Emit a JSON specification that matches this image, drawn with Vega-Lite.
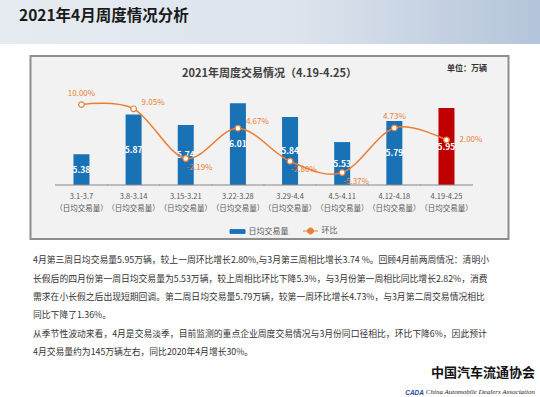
{
  "$schema": "https://vega.github.io/schema/vega-lite/v6.json",
  "padding": 0,
  "background": "#ffffff",
  "spacing": 11,
  "center": true,
  "resolve": {"legend": {"color": "independent"}, "scale": {"color": "independent"}},
  "config": {
    "font": "Noto Sans CJK SC",
    "view": {"stroke": null},
    "locale": {"number": {"decimal": ".", "thousands": ",", "grouping": [3], "currency": ["", ""], "minus": "-"}}
  },
  "vconcat": [
    {
      "width": 540,
      "height": 44,
      "view": {"fill": {"gradient": "linear", "x1": 0, "y1": 0, "x2": 1, "y2": 0, "stops": [{"offset": 0, "color": "#e6ebf1"}, {"offset": 0.55, "color": "#dde4ed"}, {"offset": 1, "color": "#b4c4da"}]}, "stroke": null},
      "data": {"values": [{"标题": "2021年4月周度情况分析"}]},
      "mark": {"type": "text", "align": "left", "baseline": "middle", "fontSize": 15.5, "fontWeight": "bold", "color": "#1a1a1a", "dx": 19, "dy": -6},
      "encoding": {
        "x": {"datum": 0, "type": "quantitative", "scale": {"domain": [0, 1]}, "axis": null},
        "text": {"field": "标题"}
      }
    },
    {
      "width": 478,
      "height": 183,
      "view": {"fill": "#f2f2f2", "stroke": "#8e8e8e", "strokeWidth": 2},
      "title": {"text": "2021年周度交易情况（4.19-4.25）", "fontSize": 11, "fontWeight": "bold", "color": "#404040", "anchor": "middle", "baseline": "middle", "offset": -29},
      "data": {"values": [
        {"周": "3.1-3.7", "日均交易量": 5.38, "环比": 0.1000},
        {"周": "3.8-3.14", "日均交易量": 5.87, "环比": 0.0905},
        {"周": "3.15-3.21", "日均交易量": 5.74, "环比": -0.0219},
        {"周": "3.22-3.28", "日均交易量": 6.01, "环比": 0.0467},
        {"周": "3.29-4.4", "日均交易量": 5.84, "环比": -0.0280},
        {"周": "4.5-4.11", "日均交易量": 5.53, "环比": -0.0537},
        {"周": "4.12-4.18", "日均交易量": 5.79, "环比": 0.0473},
        {"周": "4.19-4.25", "日均交易量": 5.95, "环比": 0.0200}
      ]},
      "encoding": {
        "x": {
          "field": "周", "type": "ordinal", "sort": null,
          "scale": {"paddingInner": 0.693, "paddingOuter": 0.93, "align": 0.443},
          "axis": {"title": null, "labelAngle": 0, "labelExpr": "[datum.label, '（日均交易量）']", "labelFontSize": 7.5, "labelColor": "#595959", "labelLineHeight": 12, "labelPadding": 7, "ticks": false, "domain": false, "grid": false, "offset": -54}
        }
      },
      "layer": [
        {
          "layer": [
            {
              "mark": {"type": "bar"},
              "encoding": {
                "y": {"field": "日均交易量", "type": "quantitative", "scale": {"domain": [4.333, 6.593], "nice": false, "zero": false}, "axis": null},
                "y2": {"datum": 5},
                "color": {
                  "datum": "日均交易量", "type": "nominal",
                  "condition": {"test": "datum['周'] === '4.19-4.25'", "value": "#C00000"},
                  "scale": {"domain": ["日均交易量", "环比"], "range": ["#1A72B6", "#ED7D31"]},
                  "legend": {
                    "title": null, "orient": "none", "legendX": 199, "legendY": 167, "direction": "horizontal",
                    "labelFontSize": 8, "labelColor": "#595959", "symbolSize": 225, "columnPadding": 12, "labelOffset": 3,
                    "encode": {"symbols": {"update": {
                      "shape": {"signal": "datum.label === '环比' ? 'M-1,0H-0.4M0.4,0H1M0.4,0A0.4,0.4,0,1,1,-0.4,0A0.4,0.4,0,1,1,0.4,0' : 'M-1,-0.25H1V0.25H-1Z'"},
                      "fill": {"signal": "datum.label === '环比' ? '#ffffff' : '#1A72B6'"},
                      "stroke": {"signal": "datum.label === '环比' ? '#ED7D31' : '#1A72B6'"},
                      "strokeWidth": {"value": 1},
                      "opacity": {"value": 1}
                    }}}
                  }
                }
              }
            },
            {
              "mark": {"type": "tick", "orient": "horizontal", "size": 53, "thickness": 1.5, "color": "#8c8c8c"},
              "encoding": {"y": {"datum": 5, "type": "quantitative"}}
            },
            {
              "mark": {"type": "text", "color": "#ffffff", "fontSize": 8.5, "fontWeight": "bold", "baseline": "middle", "dy": {"expr": "(datum['日均交易量'] - 5) * 40.5"}},
              "encoding": {
                "y": {"field": "日均交易量", "type": "quantitative"},
                "text": {"field": "日均交易量", "type": "quantitative", "format": ".2f"}
              }
            }
          ]
        },
        {
          "encoding": {
            "y": {"field": "环比", "type": "quantitative", "scale": {"domain": [-0.204, 0.21], "nice": false, "zero": false},
              "axis": {"orient": "right", "title": "单位：万辆", "labels": false, "ticks": false, "domain": false, "grid": false, "titleAngle": 0, "titleAlign": "right", "titleBaseline": "middle", "titleX": -22, "titleY": 12, "titleFontSize": 8, "titleFontWeight": "bold", "titleColor": "#333333"}}
          },
          "layer": [
            {
              "mark": {"type": "line", "interpolate": "cardinal", "strokeWidth": 1.5},
              "encoding": {"color": {"datum": "环比", "type": "nominal"}}
            },
            {
              "mark": {"type": "point", "filled": true, "fill": "#ffffff", "stroke": "#ED7D31", "strokeWidth": 1.2, "size": 32, "opacity": 1}
            },
            {
              "transform": [{"filter": {"field": "周", "oneOf": ["3.1-3.7", "4.12-4.18"]}}],
              "mark": {"type": "text", "align": "center", "baseline": "middle", "dy": -11, "fontSize": 8, "color": "#ED7D31"},
              "encoding": {"text": {"field": "环比", "type": "quantitative", "format": ".2%"}}
            },
            {
              "transform": [{"filter": {"field": "周", "oneOf": ["3.8-3.14", "3.22-3.28"]}}],
              "mark": {"type": "text", "align": "left", "baseline": "middle", "dx": 8, "dy": -6, "fontSize": 8, "color": "#ED7D31"},
              "encoding": {"text": {"field": "环比", "type": "quantitative", "format": ".2%"}}
            },
            {
              "transform": [{"filter": {"field": "周", "equal": "4.19-4.25"}}],
              "mark": {"type": "text", "align": "left", "baseline": "middle", "dx": 13, "dy": 0, "fontSize": 8, "color": "#ED7D31"},
              "encoding": {"text": {"field": "环比", "type": "quantitative", "format": ".2%"}}
            },
            {
              "transform": [{"filter": {"field": "周", "oneOf": ["3.15-3.21", "3.29-4.4", "4.5-4.11"]}}],
              "mark": {"type": "text", "align": "left", "baseline": "middle", "dx": 1, "dy": 9, "fontSize": 8, "color": "#ED7D31"},
              "encoding": {"text": {"field": "环比", "type": "quantitative", "format": ".2%"}}
            }
          ]
        }
      ],
      "resolve": {"scale": {"y": "independent"}}
    },
    {
      "width": 540,
      "height": 147,
      "data": {"values": [
        {"行": 1, "类": "正文", "文本": "4月第三周日均交易量5.95万辆，较上一周环比增长2.80%,与3月第三周相比增长3.74 %。回顾4月前两周情况：清明小"},
        {"行": 2, "类": "正文", "文本": "长假后的四月份第一周日均交易量为5.53万辆，较上周相比环比下降5.3%，与3月份第一周相比同比增长2.82%，消费"},
        {"行": 3, "类": "正文", "文本": "需求在小长假之后出现短期回调。第二周日均交易量5.79万辆，较第一周环比增长4.73%，与3月第二周交易情况相比"},
        {"行": 4, "类": "正文", "文本": "同比下降了1.36%。"},
        {"行": 5, "类": "正文", "文本": "从季节性波动来看，4月是交易淡季，目前监测的重点企业周度交易情况与3月份同口径相比，环比下降6%，因此预计"},
        {"行": 6, "类": "正文", "文本": "4月交易量约为145万辆左右，同比2020年4月增长30%。"},
        {"行": 7, "类": "会标", "文本": "中国汽车流通协会"},
        {"行": 8, "类": "英文", "文本": "China Automobile Dealers Association"},
        {"行": 8, "类": "简称", "文本": "CADA"}
      ]},
      "encoding": {"y": {"field": "行", "type": "ordinal", "axis": null, "scale": {"type": "point", "padding": 0.5}}},
      "layer": [
        {
          "transform": [{"filter": {"field": "类", "equal": "正文"}}],
          "mark": {"type": "text", "align": "left", "baseline": "middle", "fontSize": 8.8, "color": "#333333", "dx": 33},
          "encoding": {
            "x": {"datum": 0, "type": "quantitative", "scale": {"domain": [0, 1]}, "axis": null},
            "text": {"field": "文本"}
          }
        },
        {
          "transform": [{"filter": {"field": "类", "equal": "会标"}}],
          "mark": {"type": "text", "align": "right", "baseline": "middle", "fontSize": 13, "fontWeight": "bold", "color": "#111111", "dx": -5, "dy": 3},
          "encoding": {"x": {"datum": 1, "type": "quantitative"}, "text": {"field": "文本"}}
        },
        {
          "transform": [{"filter": {"field": "类", "equal": "英文"}}],
          "mark": {"type": "text", "align": "right", "baseline": "middle", "fontSize": 7, "font": "Liberation Serif", "fontStyle": "italic", "color": "#222222", "dx": -5, "dy": 3},
          "encoding": {"x": {"datum": 1, "type": "quantitative"}, "text": {"field": "文本"}}
        },
        {
          "transform": [{"filter": {"field": "类", "equal": "简称"}}],
          "mark": {"type": "text", "align": "right", "baseline": "middle", "fontSize": 6.5, "fontWeight": "bold", "fontStyle": "italic", "font": "Liberation Sans", "color": "#1a4fa0", "dx": -116, "dy": 4},
          "encoding": {"x": {"datum": 1, "type": "quantitative"}, "text": {"field": "文本"}}
        }
      ]
    }
  ]
}
